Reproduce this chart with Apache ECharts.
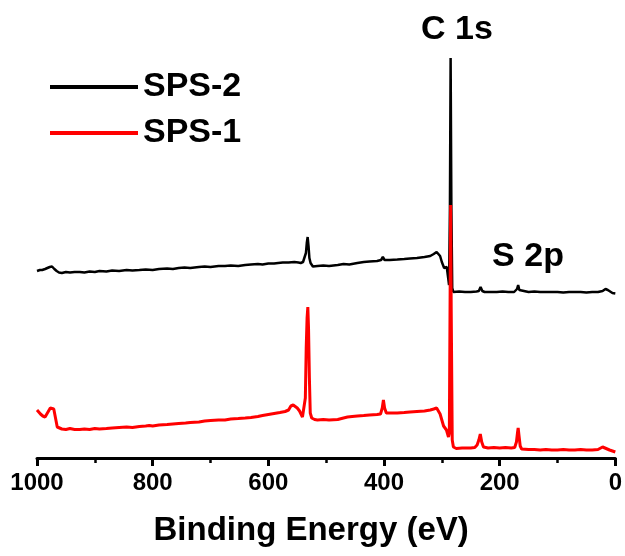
<!DOCTYPE html>
<html>
<head>
<meta charset="utf-8">
<script src="https://cdn.jsdelivr.net/npm/echarts@6/dist/echarts.min.js"></script>
<style>
html,body{margin:0;padding:0;background:#fff;}
#chart{width:625px;height:556px;}
</style>
</head>
<body>
<div id="chart"></div>
<script>
// Binding energy (eV) vs intensity (a.u.)
const sps2 = [
[1000,187],[995,188],[991,188],[986,189],[982,190],[978,191],[974,191.5],[970,189],[966,187],[962,185.5],
[957,185],[950,186],[943,185.5],[935,186],[926,186],[918,185.5],[909,186.5],[900,186],[892,187],[880,186.5],
[870,187.5],[858,187],[845,188],[835,187.5],[823,188],[812,188.5],[800,188],[789,189],[775,189.5],[765,189],
[755,190],[745,190.5],[735,190],[720,191],[710,191.5],[700,191],[686,192],[675,192],[665,192.5],[652,192],
[640,193],[630,193.5],[618,194],[610,193.5],[600,194.5],[590,194.5],[583,195],[575,195.5],[565,195.5],[555,196],
[548,195.5],[544,195],[540,196],[537,197],[535,205],[533.5,215],[532,221],[530.5,212],[529,200],[527,195],
[523,191.5],[515,192],[505,192.5],[495,192],[480,193],[470,194],[460,193.5],[446,195],[435,196],[425,196.5],
[412,197],[405,198],[402,201],[399,198],[390,198],[377,198.5],[365,199],[355,199.5],[343,200],[330,201],
[320,202],[314,204],[309,206],[306,204],[303,202],[300,196],[296,190],[293,191],[291.5,191],[289,180],
[287.5,173],[286,250],[284.8,400],[283.5,250],[282,170],[280,166],[278,166],[270,166.5],[260,166],[250,166],
[240,166.5],[236,167],[233,171],[230,167],[226,166],[215,166],[205,166],[195,166.5],[185,166],[175,166],
[170,169],[168,173],[166,168],[163,166],[150,166],[140,166.5],[130,166],[120,166],[110,166],[100,166],
[90,165.5],[80,166],[70,166],[60,166],[50,165.5],[40,166],[30,166],[22,167],[17,169],[13,168],
[10,166],[5,165],[0,164.5]
];
const sps1 = [
[1000,48],[997,46],[994,44],[990,42],[986,41],[983,44],[980,47],[977,50],[974,51],[971,49],
[968,40],[965,31],[962,29.5],[957,29],[950,28.5],[943,29.5],[935,28.5],[926,28.5],[918,29],[909,28.5],
[900,29.5],[892,29],[880,29.5],[870,30],[858,30.5],[845,31],[835,30.5],[823,31.5],[812,32],[806,32.5],
[800,32],[789,33],[775,33.5],[765,34],[755,34.5],[743,35],[735,35.5],[720,36],[710,37],[700,37.5],
[686,38],[675,38],[665,39],[652,39.5],[640,40],[630,40.5],[618,41.5],[610,42.5],[600,43.5],[590,44.5],
[580,45.5],[571,46.5],[565,48],[561,52],[557,53],[554,52],[550,50],[546,47],[541,41],[538,42],
[536,60],[534.5,110],[533,140],[531.7,151],[530.5,130],[529,80],[527.5,45],[525,40],[520,38.5],[515,38],
[505,38.5],[495,38],[480,38.5],[470,40],[463,41],[455,41.5],[446,42],[435,42.5],[425,43],[412,43.5],
[406,44],[403,50],[401,58],[399,50],[396,45],[390,45],[377,45],[365,45.5],[355,46],[343,46.5],
[330,47],[320,48],[314,49],[309,50],[306,48],[303,44],[300,38],[297,32],[295,30],[292,28],
[290,24],[288.5,21],[287,25],[285.8,150],[284.8,253],[283.8,150],[282,18],[280,11],[275,9.5],[265,10],
[257,10],[250,10],[243,10.5],[239,13],[236,18],[233.5,24],[231,16],[228,11],[220,10],[210,10.5],
[200,10],[190,10.5],[180,10],[174,10.5],[171,16],[169,26],[168,30],[166.5,22],[164.5,12],[162,9],
[150,8.5],[140,8.5],[130,8],[120,8.5],[110,8],[100,8],[90,8.5],[80,8],[70,8],[60,8.5],
[50,8],[40,8],[30,8.5],[22,11],[18,10],[14,9],[10,8],[5,7],[0,6]
];
const seriesNames = ['SPS-2', 'SPS-1'];
const xTicks = [0, 200, 400, 600, 800, 1000];
const annotations = ['C 1s', 'S 2p'];

const FONT = "'Liberation Sans', Arial, sans-serif";
const chart = echarts.init(document.getElementById('chart'), null, {renderer: 'canvas'});
chart.setOption({
  animation: false,
  backgroundColor: '#fff',
  grid: {left: 37, right: 5, top: 8, bottom: 98, containLabel: false},
  legend: {
    data: seriesNames,
    orient: 'vertical',
    left: 45,
    top: 65,
    itemWidth: 88,
    itemHeight: 4,
    itemGap: 12,
    icon: 'rect',
    textStyle: {fontFamily: FONT, fontWeight: 'bold', fontSize: 34, color: '#000', lineHeight: 34}
  },
  xAxis: {
    type: 'value',
    inverse: true,
    min: 0, max: 1000, interval: 200,
    name: 'Binding Energy (eV)',
    nameLocation: 'middle',
    nameGap: 56,
    nameTextStyle: {fontFamily: FONT, fontWeight: 'bold', fontSize: 33, color: '#000', padding: [0, 30, 0, 0]},
    axisLine: {show: true, onZero: false, lineStyle: {color: '#000', width: 3}},
    axisTick: {show: true, length: 8, lineStyle: {color: '#000', width: 3}},
    minorTick: {show: true, splitNumber: 2, length: 5, lineStyle: {color: '#000', width: 2.5}},
    splitLine: {show: false},
    axisLabel: {
      fontFamily: FONT, fontWeight: 'bold', fontSize: 24, color: '#000', margin: 13,
      formatter: v => xTicks.indexOf(v) >= 0 ? String(v) : ''
    }
  },
  yAxis: {
    type: 'value', min: 0, max: 450, show: false,
    splitLine: {show: false}
  },
  series: [
    {name: seriesNames[0], type: 'line', data: sps2, symbol: 'none', lineStyle: {color: '#000', width: 2.5}, itemStyle: {color: '#000'}},
    {name: seriesNames[1], type: 'line', data: sps1, symbol: 'none', lineStyle: {color: '#ff0000', width: 3}, itemStyle: {color: '#ff0000'}}
  ],
  graphic: [
    {type: 'text', x: 457, y: 30, style: {text: annotations[0], fontFamily: FONT, fontWeight: 'bold', fontSize: 34, fill: '#000', align: 'center', verticalAlign: 'middle'}},
    {type: 'text', x: 528, y: 257, style: {text: annotations[1], fontFamily: FONT, fontWeight: 'bold', fontSize: 34, fill: '#000', align: 'center', verticalAlign: 'middle'}}
  ]
});
</script>
</body>
</html>
